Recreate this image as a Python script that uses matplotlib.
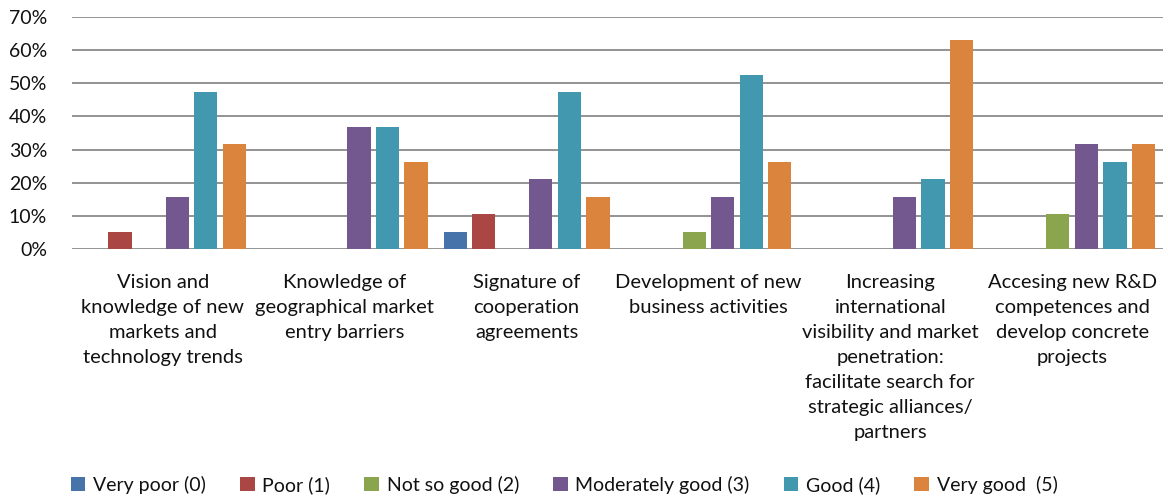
import matplotlib
matplotlib.use("Agg")
import matplotlib.pyplot as plt
import numpy as np

categories = [
    "Vision and\nknowledge of new\nmarkets and\ntechnology trends",
    "Knowledge of\ngeographical market\nentry barriers",
    "Signature of\ncooperation\nagreements",
    "Development of new\nbusiness activities",
    "Increasing\ninternational\nvisibility and market\npenetration:\nfacilitate search for\nstrategic alliances/\npartners",
    "Accesing new R&D\ncompetences and\ndevelop concrete\nprojects",
]
series_names = ["Very poor (0)", "Poor (1)", "Not so good (2)",
                "Moderately good (3)", "Good (4)", "Very good  (5)"]
very_poor = [0.0, 0.0, 5.26, 0.0, 0.0, 0.0]
poor = [5.26, 0.0, 10.53, 0.0, 0.0, 0.0]
not_so_good = [0.0, 0.0, 0.0, 5.26, 0.0, 10.53]
moderately_good = [15.79, 36.84, 21.05, 15.79, 15.79, 31.58]
good = [47.37, 36.84, 47.37, 52.63, 21.05, 26.32]
very_good = [31.58, 26.32, 15.79, 26.32, 63.16, 31.58]
series_values = [very_poor, poor, not_so_good, moderately_good, good, very_good]
colors = ["#4674AA", "#AA4744", "#8AA54E", "#72588E", "#4298AF", "#DB843D"]
yticks = [0, 10, 20, 30, 40, 50, 60, 70]

plt.rcParams['font.family'] = ['Lato', 'DejaVu Sans']

fig = plt.figure(figsize=(11.68, 4.99), dpi=100)
ax = fig.add_axes([72/1168, 1-249/499, (1163-72)/1168, (249-17)/499])

n = len(series_names)
slot = 0.157
x = np.arange(len(categories)) + 0.5
for j, (name, vals, c) in enumerate(zip(series_names, series_values, colors)):
    ax.bar(x + (j - (n-1)/2) * slot, vals, width=0.128, color=c,
           label=name, zorder=3, linewidth=0)

ax.set_xlim(0, len(categories))
ax.set_ylim(0, 70)
ax.set_yticks(yticks)
ax.set_yticklabels([f"{v}%" for v in yticks], fontsize=14, color="#111111")
ax.yaxis.grid(True, color="#8a8a8a", linewidth=1.3, zorder=0)
ax.set_axisbelow(True)
ax.set_xticks(x)
ax.set_xticklabels(categories, fontsize=14.5, color="#111111", linespacing=1.57, va="top")
ax.tick_params(axis="both", length=0)
ax.tick_params(axis="x", pad=18)
ax.tick_params(axis="y", pad=18)
for s in ax.spines.values():
    s.set_visible(False)

fig.legend(loc="center", bbox_to_anchor=(0.483, 1-485/499), ncol=6, frameon=False,
           fontsize=14, handlelength=0.75, handleheight=0.75, handletextpad=0.4,
           columnspacing=1.75, labelcolor="#111111")

fig.savefig("out.png", dpi=100)
